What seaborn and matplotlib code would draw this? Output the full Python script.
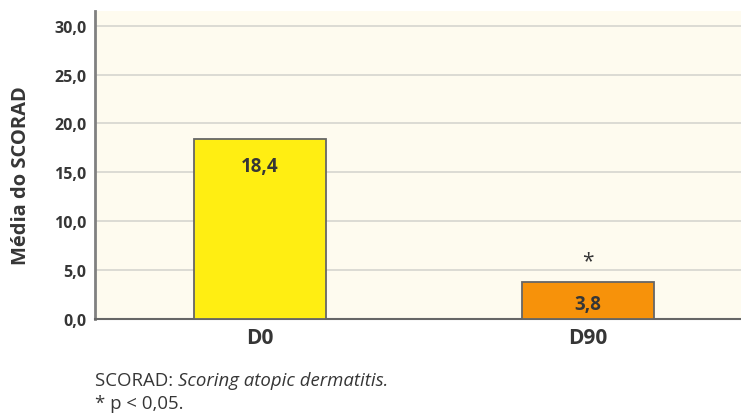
import matplotlib
matplotlib.use("Agg")
import matplotlib.pyplot as plt
from matplotlib import font_manager as fm
import seaborn as sns
import pandas as pd

categories = ["D0", "D90"]
values = [18.4, 3.8]
value_labels = ["18,4", "3,8"]
colors = ["#FFEE12", "#F7920A"]
yticks = [0, 5, 10, 15, 20, 25, 30]
ytick_labels = ["0,0", "5,0", "10,0", "15,0", "20,0", "25,0", "30,0"]
significance = ["", "*"]

sns.set_theme(style="white")
plt.rcParams['font.family'] = ['Open Sans', 'DejaVu Sans']

bold_path = None
for f in fm.fontManager.ttflist:
    if f.fname.split('/')[-1] == "OpenSans-Bold.ttf":
        bold_path = f.fname
        break


def bold(size):
    if bold_path:
        return fm.FontProperties(fname=bold_path, size=size)
    return fm.FontProperties(family="Open Sans", weight="bold", stretch="normal", size=size)


TXT = "#363636"
df = pd.DataFrame({"cat": categories, "val": values})

fig = plt.figure(figsize=(7.41, 4.14), dpi=100)
ax = fig.add_axes([95/741, 1-320/414, (741-95)/741, (320-12)/414])
ax.set_facecolor("#FEFBEF")

sns.barplot(data=df, x="cat", y="val", hue="cat", palette=colors, legend=False,
            saturation=1, width=0.402, edgecolor="#666666", linewidth=1.3, ax=ax, zorder=3)

ax.set_ylim(0, 31.5)
ax.set_xlim(-0.503, 1.466)
ax.set_yticks(yticks)
ax.set_yticklabels(ytick_labels, fontproperties=bold(11.5), color=TXT)
ax.set_xticks(range(len(categories)))
ax.set_xticklabels(categories, fontproperties=bold(15), color=TXT)
ax.grid(axis="y", color="#D9D8D2", linewidth=1.3, zorder=0)
ax.set_axisbelow(True)
ax.tick_params(axis="y", length=0, pad=6)
ax.tick_params(axis="x", length=0, pad=6)
ax.set_xlabel("")
ax.set_ylabel("Média do SCORAD", fontproperties=bold(14.5), color=TXT)
ax.yaxis.set_label_coords((31 - 95) / 646, (320 - 176) / 308)

for s in ["top", "right"]:
    ax.spines[s].set_visible(False)
ax.spines["left"].set_color("#808080")
ax.spines["left"].set_linewidth(2)
ax.spines["bottom"].set_color("#666666")
ax.spines["bottom"].set_linewidth(1.5)

# value labels
ax.text(0, values[0] - 2.8, value_labels[0], ha="center", va="center",
        fontproperties=bold(13.5), color=TXT, zorder=5)
ax.text(1, values[1] / 2 - 0.4, value_labels[1], ha="center", va="center",
        fontproperties=bold(13.5), color=TXT, zorder=5)
for i, s in enumerate(significance):
    if s:
        ax.text(i, values[i] + 2.2, s, ha="center", va="center",
                fontsize=15, color=TXT, zorder=5)

y1 = 1 - 381/414
t = fig.text(95/741, y1, "SCORAD: ", fontsize=13.4, color=TXT, va="center", ha="left")
fig.canvas.draw()
bb = t.get_window_extent()
fig.text(bb.x1/741, y1, "Scoring atopic dermatitis.", fontsize=13.4, style="italic",
         color=TXT, va="center", ha="left")
fig.text(95/741, 1-404/414, "* p < 0,05.", fontsize=13.4, color=TXT, va="center", ha="left")

fig.savefig("out.png", dpi=100)
